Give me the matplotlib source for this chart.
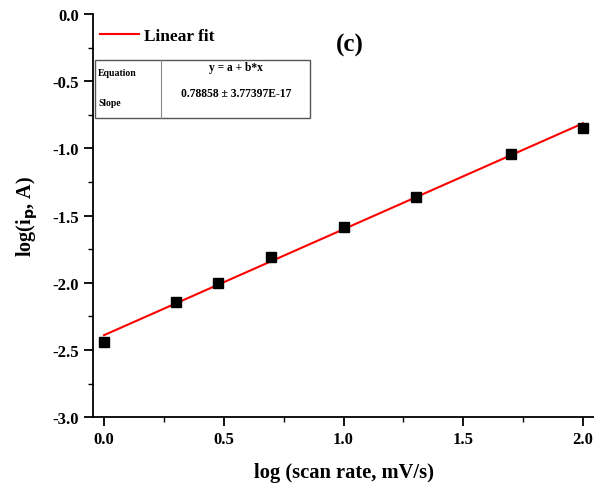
import matplotlib
matplotlib.use("Agg")
import matplotlib.pyplot as plt
import numpy as np
from matplotlib.patches import Rectangle
from matplotlib.ticker import MultipleLocator

plt.rcParams['font.family'] = ['Liberation Serif', 'DejaVu Serif']
plt.rcParams['font.weight'] = 'bold'

log_scan = [0.0, 0.301, 0.477, 0.699, 1.0, 1.301, 1.699, 2.0]
log_ip = [-2.44, -2.145, -2.00, -1.81, -1.585, -1.36, -1.04, -0.845]
fit_slope = 0.78858
fit_intercept = -2.39
fit_x = [0.0, 2.0]

fig = plt.figure(figsize=(5.94, 4.89), dpi=100)
ax = fig.add_axes([0.1566, 0.145, 0.8434, 0.824])

fx = np.array(fit_x)
ax.plot(fx, fit_intercept + fit_slope * fx, color='#ff0000', lw=1.5, label='Linear fit', zorder=2)
ax.plot(log_scan, log_ip, 's', color='black', ms=6.5, zorder=3)

ax.set_xlim(-0.046, 2.046)
ax.set_ylim(-3.0, 0.0)
ax.xaxis.set_major_locator(MultipleLocator(0.5))
ax.xaxis.set_minor_locator(MultipleLocator(0.25))
ax.yaxis.set_major_locator(MultipleLocator(0.5))
ax.yaxis.set_minor_locator(MultipleLocator(0.25))
ax.spines['top'].set_visible(False)
ax.spines['right'].set_visible(False)
for s in ['left', 'bottom']:
    ax.spines[s].set_linewidth(1.3)
ax.tick_params(which='major', direction='out', length=6.5, width=1.3, labelsize=12)
ax.tick_params(which='minor', direction='out', length=3.5, width=1.0)
ax.set_xticks([0.0, 0.5, 1.0, 1.5, 2.0])
ax.set_xticklabels(['0.0', '0.5', '1.0', '1.5', '2.0'], fontweight='bold')
ax.set_yticks([0.0, -0.5, -1.0, -1.5, -2.0, -2.5, -3.0])
ax.set_yticklabels(['0.0', '-0.5', '-1.0', '-1.5', '-2.0', '-2.5', '-3.0'], fontweight='bold')

ax.set_xlabel('log (scan rate, mV/s)', fontsize=14.8, fontweight='bold', labelpad=11)
ax.set_ylabel(r'log(i$_\mathbf{p}$, A)', fontsize=14.5, fontweight='bold', labelpad=9)

leg = ax.legend(loc='upper left', bbox_to_anchor=(0.006, 0.976), frameon=False,
                prop={'weight': 'bold', 'size': 12.5}, handlelength=2.2,
                borderaxespad=0.0, borderpad=0.25, handletextpad=0.3)

fig.text(350/594, 1 - 45/489, '(c)', fontsize=18, fontweight='bold', ha='center', va='center')

def fx_(px):
    return px / 594
def fy_(py):
    return 1 - py / 489

x0, x1, xm = 95, 310, 161
y0, y1 = 61, 119
fig.patches.append(Rectangle((fx_(x0), fy_(y1)), fx_(x1) - fx_(x0), fy_(y0) - fy_(y1),
                             transform=fig.transFigure, fill=True, facecolor='white',
                             edgecolor='#555555', lw=1.0, zorder=5))
fig.add_artist(plt.Line2D([fx_(xm), fx_(xm)], [fy_(y0), fy_(y1)], transform=fig.transFigure,
                          color='#888888', lw=0.8, zorder=6))
fig.text(fx_(98), fy_(74), 'Equation', fontsize=7, fontweight='bold', va='center', ha='left', zorder=7)
fig.text(fx_(98), fy_(103), 'Slope', fontsize=7, fontweight='bold', va='center', ha='left', zorder=7)
fig.text(fx_(236), fy_(68), 'y = a + b*x', fontsize=8.3, fontweight='bold', va='center', ha='center', zorder=7)
fig.text(fx_(236), fy_(94), '0.78858 ± 3.77397E-17', fontsize=8.4, fontweight='bold', va='center', ha='center', zorder=7)

fig.savefig('out.png', dpi=100)
